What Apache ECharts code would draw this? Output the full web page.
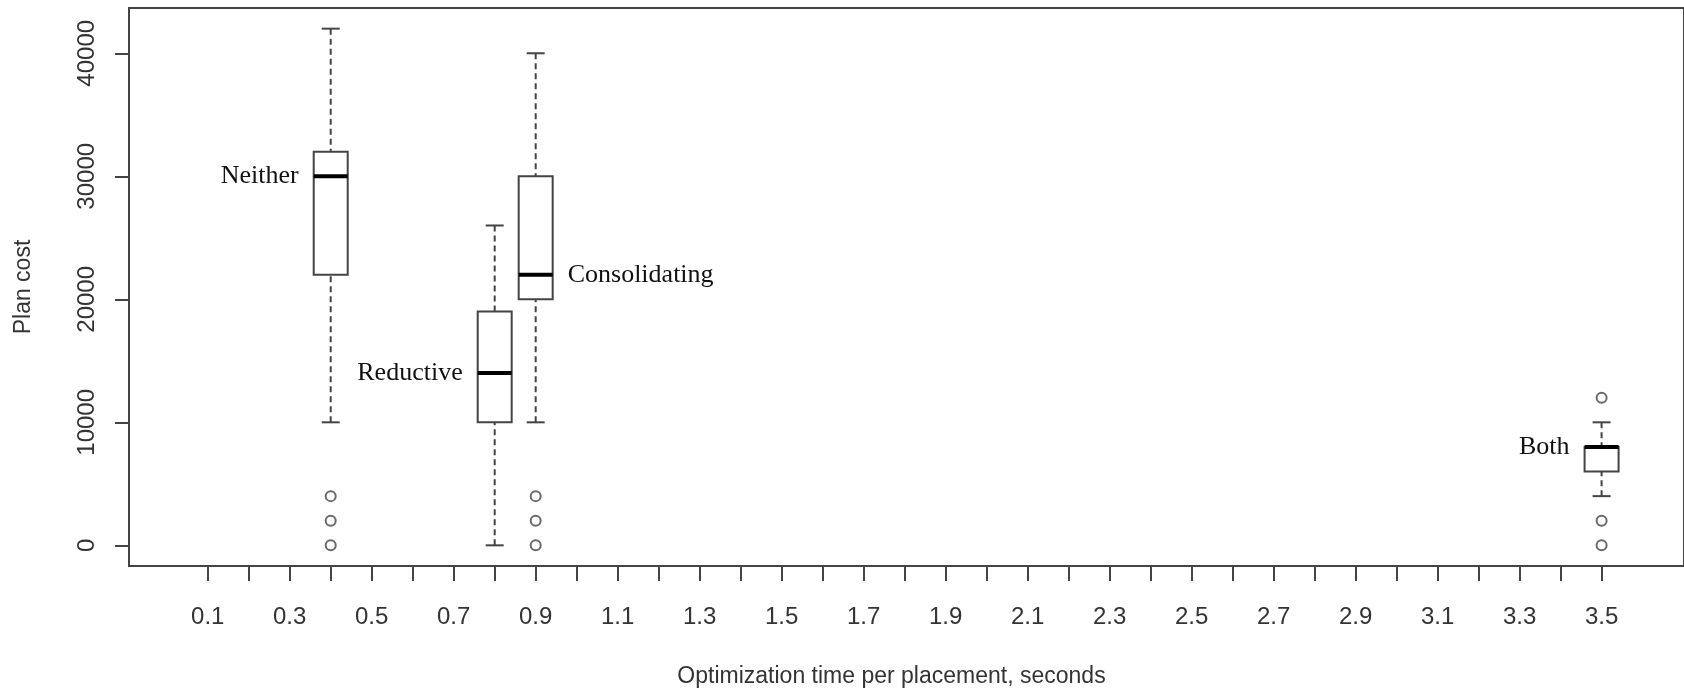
<!DOCTYPE html>
<html>
<head>
<meta charset="utf-8">
<title>Plan cost vs optimization time</title>
<script src="https://cdn.jsdelivr.net/npm/echarts@6/dist/echarts.min.js"></script>
<style>
  html, body { margin: 0; padding: 0; background: #fff; }
  #chart { width: 1684px; height: 693px; }
</style>
</head>
<body>
<div id="chart"></div>
<script>
// box positions (seconds) and five-number summaries
const positions = [0.4, 0.8, 0.9, 3.5]
const groupNames = ['Neither', 'Reductive', 'Consolidating', 'Both']
const labelSide = ['left', 'left', 'right', 'left']
const whiskerLow = [10000, 0, 10000, 4000]
const q1 = [22000, 10000, 20000, 6000]
const median = [30000, 14000, 22000, 8000]
const q3 = [32000, 19000, 30000, 8000]
const whiskerHigh = [42000, 26000, 40000, 10000]

// outliers: [position, cost]
const outliers = [
  [0.4, 0], [0.4, 2000], [0.4, 4000],
  [0.9, 0], [0.9, 2000], [0.9, 4000],
  [3.5, 0], [3.5, 2000], [3.5, 12000],
]

const xTicks = [0.1, 0.2, 0.3, 0.4, 0.5, 0.6, 0.7, 0.8, 0.9, 1.0, 1.1, 1.2, 1.3, 1.4, 1.5, 1.6, 1.7,
  1.8, 1.9, 2.0, 2.1, 2.2, 2.3, 2.4, 2.5, 2.6, 2.7, 2.8, 2.9, 3.0, 3.1, 3.2, 3.3, 3.4, 3.5]
const xTickLabels = [0.1, 0.3, 0.5, 0.7, 0.9, 1.1, 1.3, 1.5, 1.7, 1.9, 2.1, 2.3, 2.5, 2.7, 2.9, 3.1, 3.3, 3.5]
const yTicks = [0, 10000, 20000, 30000, 40000]

const boxData = positions.map((p, i) => [p, whiskerLow[i], q1[i], median[i], q3[i], whiskerHigh[i]])

const axisColor = '#444'
const textColor = '#333'
const sansFont = '"Liberation Sans", Arial, sans-serif'

function renderBox(params, api) {
  const x = api.value(0)
  const lo = api.coord([x, api.value(1)])
  const b1 = api.coord([x, api.value(2)])
  const md = api.coord([x, api.value(3)])
  const b3 = api.coord([x, api.value(4)])
  const hi = api.coord([x, api.value(5)])
  const half = 17
  const cap = 9
  const cx = md[0]
  const dashed = { stroke: axisColor, lineWidth: 2, lineDash: [6, 4] }
  const solid = { stroke: axisColor, lineWidth: 2 }
  const side = labelSide[params.dataIndex]
  return {
    type: 'group',
    children: [
      { type: 'line', shape: { x1: cx, y1: lo[1], x2: cx, y2: b1[1] }, style: dashed },
      { type: 'line', shape: { x1: cx, y1: hi[1], x2: cx, y2: b3[1] }, style: dashed },
      { type: 'line', shape: { x1: cx - cap, y1: lo[1], x2: cx + cap, y2: lo[1] }, style: solid },
      { type: 'line', shape: { x1: cx - cap, y1: hi[1], x2: cx + cap, y2: hi[1] }, style: solid },
      {
        type: 'rect',
        shape: { x: cx - half, y: b3[1], width: half * 2, height: b1[1] - b3[1] },
        style: { fill: '#fff', stroke: axisColor, lineWidth: 2 },
      },
      { type: 'line', shape: { x1: cx - half, y1: md[1], x2: cx + half, y2: md[1] }, style: { stroke: '#000', lineWidth: 4 } },
      {
        type: 'text',
        x: side === 'left' ? cx - half - 15 : cx + half + 15,
        y: md[1],
        style: {
          text: groupNames[params.dataIndex],
          fill: '#111',
          font: '26px "Liberation Serif", "Times New Roman", serif',
          align: side === 'left' ? 'right' : 'left',
          verticalAlign: 'middle',
        },
      },
    ],
  }
}

const option = {
  animation: false,
  backgroundColor: '#fff',
  grid: {
    left: 129,
    right: -7,
    top: 8,
    bottom: 126,
    show: true,
    borderColor: axisColor,
    borderWidth: 2,
  },
  xAxis: {
    type: 'value',
    min: -0.092,
    max: 3.701,
    splitLine: { show: false },
    axisLine: { show: true, onZero: false, lineStyle: { color: axisColor, width: 2 } },
    axisTick: { show: true, length: 15, customValues: xTicks, lineStyle: { color: axisColor, width: 2 } },
    axisLabel: {
      customValues: xTickLabels,
      formatter: v => v.toFixed(1),
      margin: 39,
      color: textColor,
      fontFamily: sansFont,
      fontSize: 24,
    },
    name: 'Optimization time per placement, seconds',
    nameLocation: 'middle',
    nameGap: 99,
    nameTextStyle: { color: textColor, fontFamily: sansFont, fontSize: 23, padding: [0, 30, 0, 0] },
  },
  yAxis: {
    type: 'value',
    min: -1680,
    max: 43680,
    splitLine: { show: false },
    axisLine: { show: true, onZero: false, lineStyle: { color: axisColor, width: 2 } },
    axisTick: { show: true, length: 14, customValues: yTicks, lineStyle: { color: axisColor, width: 2 } },
    axisLabel: {
      customValues: yTicks,
      formatter: v => String(v),
      rotate: 90,
      margin: 30,
      color: textColor,
      fontFamily: sansFont,
      fontSize: 24,
    },
    name: 'Plan cost',
    nameLocation: 'middle',
    nameRotate: 90,
    nameGap: 94,
    nameTextStyle: { color: textColor, fontFamily: sansFont, fontSize: 23 },
  },
  series: [
    {
      type: 'custom',
      renderItem: renderBox,
      data: boxData,
      encode: { x: 0, y: [1, 2, 3, 4, 5] },
      z: 2,
    },
    {
      type: 'scatter',
      data: outliers,
      symbol: 'emptyCircle',
      symbolSize: 10,
      itemStyle: { color: axisColor, borderWidth: 1.6 },
      z: 3,
    },
  ],
}

const myChart = echarts.init(document.getElementById('chart'))
myChart.setOption(option)
</script>
</body>
</html>
